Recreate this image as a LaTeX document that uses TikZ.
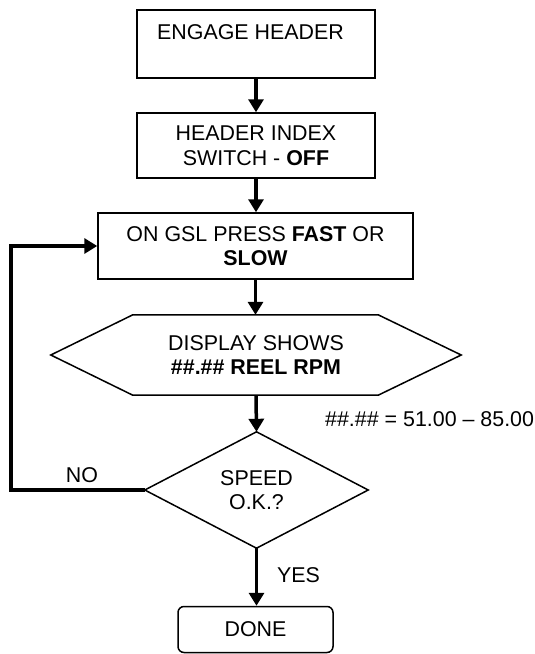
\documentclass[tikz,border=0pt]{standalone}
\usepackage{fontspec}
\setmainfont{Liberation Sans}
\usetikzlibrary{arrows.meta,calc}
\begin{document}
\begin{tikzpicture}[x=1pt,y=-1pt,
  font=\fontsize{21.4}{24.5}\selectfont,
  box/.style={draw, line width=1.5pt, inner sep=0pt, align=center},
  plain/.style={inner sep=0pt, align=center},
  outline/.style={line width=1.5pt, line join=miter},
  arr/.style={line width=3.5pt, -{Triangle[length=13pt,width=15pt]}},
  lbl/.style={inner sep=0pt}]
\useasboundingbox (0,0) rectangle (535,654);
\node[box, minimum width=238pt, minimum height=68pt] (b1) at (256,44) {ENGAGE HEADER\hspace*{11pt}\\\mbox{}};
\node[box, minimum width=238pt, minimum height=65pt] (b2) at (256,145.5) {HEADER INDEX\\SWITCH - \textbf{OFF}};
\node[box, minimum width=315pt, minimum height=66pt] (b3) at (255.5,246) {ON GSL PRESS \textbf{FAST} OR\\\textbf{SLOW}};
\node[plain, minimum width=410pt, minimum height=80pt] (hex) at (256,355) {DISPLAY SHOWS\\\textbf{\#\#.\#\# REEL RPM}};
\draw[outline] (hex.west) -- ($(hex.north west)+(82,0)$) -- ($(hex.north east)+(-83,0)$) -- (hex.east) -- ($(hex.south east)+(-83,0)$) -- ($(hex.south west)+(82,0)$) -- cycle;
\node[plain, minimum width=223pt, minimum height=116pt] (dia) at (256.5,490) {SPEED\\O.K.?};
\draw[outline] (dia.north) -- (dia.east) -- (dia.south) -- (dia.west) -- cycle;
\node[box, rounded corners=6pt, minimum width=155pt, minimum height=46pt] (done) at (255.5,629.5) {DONE};
\node[lbl, anchor=west] (rng) at (325,419) {\#\#.\#\# = 51.00 – 85.00};
\node[lbl] (no) at (82,475) {NO};
\node[lbl, anchor=west] (yes) at (277,575) {YES};
\draw[arr] (b1.south) -- (b2.north);
\draw[arr] (b2.south) -- (b2.south |- b3.north);
\draw[arr] (b3.south) -- (b3.south |- hex.north);
\draw[arr] (hex.south) -- (dia.north);
\draw[arr] (dia.south) -- (dia.south |- done.north);
\draw[arr] (dia.west) -- ++(-134,0) |- (b3.west);
\end{tikzpicture}
\end{document}
